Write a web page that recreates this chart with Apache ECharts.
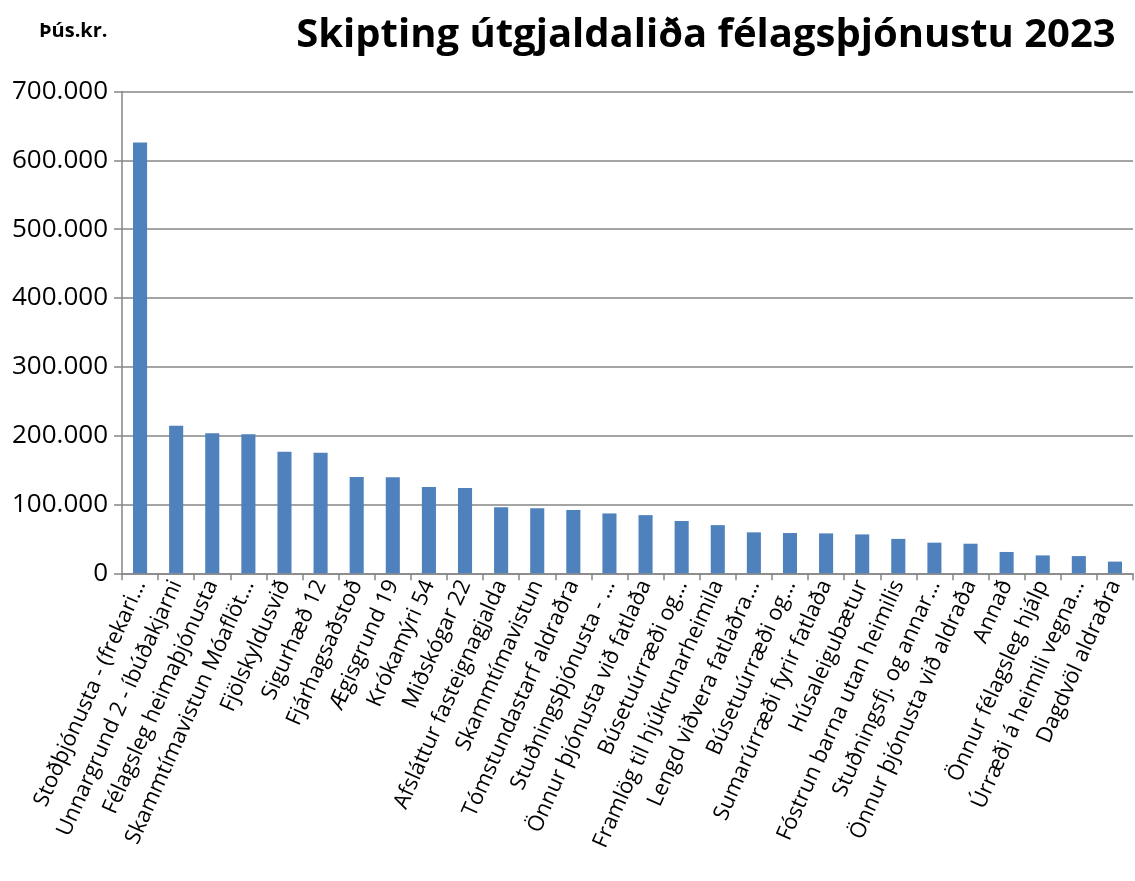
<!DOCTYPE html>
<html>
<head>
<meta charset="utf-8">
<script src="https://cdn.jsdelivr.net/npm/echarts@6/dist/echarts.min.js"></script>
<style>
  html, body { margin: 0; padding: 0; background: #fff; }
  #chart { width: 1135px; height: 881px; }
</style>
</head>
<body>
<div id="chart"></div>
<script>
// categories as shown on the x axis (truncated as in the source)
const categories = [
  'Stoðþjónusta - (frekari…', 'Unnargrund 2 - íbúðakjarni', 'Félagsleg heimaþjónusta',
  'Skammtímavistun Móaflöt…', 'Fjölskyldusvið', 'Sigurhæð 12', 'Fjárhagsaðstoð',
  'Ægisgrund 19', 'Krókamýri 54', 'Miðskógar 22', 'Afsláttur fasteignagjalda',
  'Skammtímavistun', 'Tómstundastarf aldraðra', 'Stuðningsþjónusta - …',
  'Önnur þjónusta við fatlaða', 'Búsetuúrræði og…', 'Framlög til hjúkrunarheimila',
  'Lengd viðvera fatlaðra…', 'Búsetuúrræði og…', 'Sumarúrræði fyrir fatlaða',
  'Húsaleigubætur', 'Fóstrun barna utan heimilis', 'Stuðningsfj. og annar…',
  'Önnur þjónusta við aldraða', 'Annað', 'Önnur félagsleg hjálp',
  'Úrræði á heimili vegna…', 'Dagdvöl aldraðra'
];
// þús.kr.
const values = [
  626000, 214500, 203500, 202000, 176500, 175000, 140000, 139500, 125500, 124000,
  96000, 94500, 92000, 87000, 84500, 76000, 70000, 59500, 58500, 58000,
  56500, 50000, 44500, 43000, 31000, 26000, 25000, 17000
];
const yTicks = { min: 0, max: 700000, interval: 100000 };

const fmt = v => v === 0 ? '0' : String(v).replace(/\B(?=(\d{3})+(?!\d))/g, '.');
const font = '"Open Sans", sans-serif';
const grey = '#868686';

const myChart = echarts.init(document.getElementById('chart'));
myChart.setOption({
  animation: false,
  backgroundColor: '#fff',
  title: [{
    text: 'Skipting útgjaldaliða félagsþjónustu 2023',
    left: 701, top: 11, textAlign: 'center',
    textStyle: { fontFamily: font, fontWeight: 'bold', fontSize: 40, color: '#000' }
  }, {
    text: 'Þús.kr.',
    left: 34, top: 16,
    textStyle: { fontFamily: font, fontWeight: 'bold', fontSize: 20, color: '#000' }
  }],
  grid: { left: 122, right: 2, top: 91.5, bottom: 307.7 },
  xAxis: {
    type: 'category',
    data: categories,
    axisLine: { lineStyle: { color: grey, width: 1.5 } },
    axisTick: { show: true, alignWithLabel: false, length: 7, lineStyle: { color: grey, width: 1.5 } },
    axisLabel: { interval: 0, rotate: 66, margin: 8, fontFamily: font, fontSize: 22, color: '#000' }
  },
  yAxis: {
    type: 'value',
    min: yTicks.min, max: yTicks.max, interval: yTicks.interval,
    axisLine: { show: true, lineStyle: { color: grey, width: 1.5 } },
    axisTick: { show: true, length: 8, lineStyle: { color: grey, width: 1.5 } },
    splitLine: { lineStyle: { color: grey, width: 1.5 } },
    axisLabel: { formatter: fmt, margin: 14, fontFamily: font, fontSize: 26, color: '#000' }
  },
  series: [{
    type: 'bar',
    data: values,
    barWidth: '39%',
    itemStyle: { color: '#4f81bd' }
  }]
});
window.addEventListener('resize', myChart.resize);
</script>
</body>
</html>
